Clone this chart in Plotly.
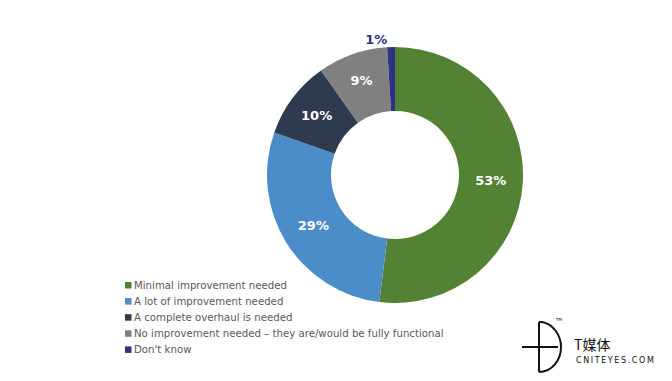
import plotly.graph_objects as go

categories = [
    "Minimal improvement needed",
    "A lot of improvement needed",
    "A complete overhaul is needed",
    "No improvement needed \u2013 they are/would be fully functional",
    "Don't know",
]
values = [53, 29, 10, 9, 1]
slice_labels = ["53%", "29%", "10%", "9%", "1%"]
colors = ["#548235", "#4a8dc8", "#2e3b4e", "#808080", "#2e3184"]
text_colors = ["white", "white", "white", "white", "#2e3184"]
text_positions = ["inside", "inside", "inside", "inside", "outside"]

W, H = 672, 381

def px(x):
    return x / W

def py(y):
    return 1 - y / H

fig = go.Figure()
fig.add_trace(go.Pie(
    labels=categories,
    values=values,
    text=slice_labels,
    textinfo="text",
    texttemplate="%{text}",
    textposition=text_positions,
    insidetextorientation="horizontal",
    textfont=dict(family="DejaVu Sans", size=13, color=text_colors, weight="bold"),
    marker=dict(colors=colors, line=dict(width=0)),
    hole=0.5,
    sort=False,
    direction="clockwise",
    rotation=0,
    showlegend=False,
    domain=dict(x=[px(267), px(523)], y=[py(303), py(47)]),
    hoverinfo="label+text",
))

annotations = []
shapes = []
leg_x = 125
leg_y0 = 285
leg_dy = 16.1
for i, (cat, col) in enumerate(zip(categories, colors)):
    yc = leg_y0 + i * leg_dy
    shapes.append(dict(type="rect", xref="paper", yref="paper",
                       x0=px(leg_x), x1=px(leg_x + 6.5), y0=py(yc + 3.5), y1=py(yc - 3),
                       fillcolor=col, line=dict(width=0)))
    annotations.append(dict(x=px(leg_x + 7), y=py(yc), xref="paper", yref="paper",
                            text=cat, showarrow=False, xanchor="left", yanchor="middle",
                            font=dict(family="DejaVu Sans", size=10.2, color="#595959")))

# watermark logo
lc = "#111111"
shapes.append(dict(type="line", xref="paper", yref="paper",
                   x0=px(539), x1=px(539), y0=py(322), y1=py(372), line=dict(color=lc, width=2)))
shapes.append(dict(type="line", xref="paper", yref="paper",
                   x0=px(522), x1=px(558), y0=py(347), y1=py(347), line=dict(color=lc, width=2)))
p = lambda x, y: f"{px(x):.5f},{py(y):.5f}"
path = (f"M{p(539,322)} L{p(542,322)} C{p(553,324)} {p(561,335)} {p(561,347)} "
        f"C{p(561,360)} {p(552,372)} {p(539,372)}")
shapes.append(dict(type="path", xref="paper", yref="paper", path=path,
                   line=dict(color=lc, width=2)))
annotations.append(dict(x=px(564), y=py(324), xref="paper", yref="paper", text="TM",
                        showarrow=False, font=dict(family="DejaVu Sans", size=4, color=lc)))
annotations.append(dict(x=px(572), y=py(344), xref="paper", yref="paper", text="T媒体",
                        showarrow=False, xanchor="left", yanchor="middle",
                        font=dict(family="Noto Sans CJK SC", size=14, color=lc)))
annotations.append(dict(x=px(574), y=py(360), xref="paper", yref="paper",
                        text="\u2009".join("CNITEYES.COM"),
                        showarrow=False, xanchor="left", yanchor="middle",
                        font=dict(family="DejaVu Sans", size=8, color=lc)))

fig.update_layout(
    width=W, height=H,
    margin=dict(l=0, r=0, t=0, b=0),
    paper_bgcolor="white", plot_bgcolor="white",
    shapes=shapes, annotations=annotations,
)
fig.write_html("out.html", config={"displayModeBar": False},
               post_script="document.body.style.margin='0px';")
